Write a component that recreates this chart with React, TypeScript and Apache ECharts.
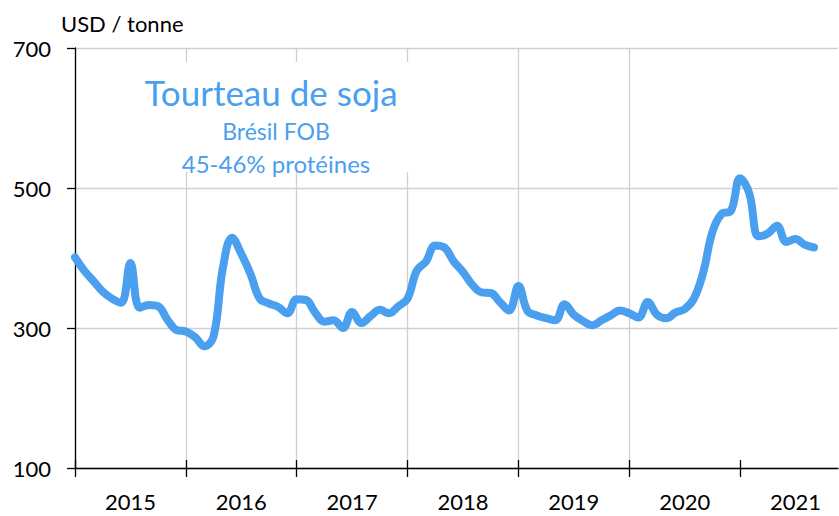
import React, { useEffect, useRef } from "react";
import * as echarts from "echarts";

// Monthly price, Jan 2015 .. Sep 2021 (USD / tonne)
const prices: number[] = [
  401, 382, 367, 352, 342, 336, 393, 329, 333, 331, 312, 297,
  295, 287, 274, 288, 385, 429, 406, 377, 342, 335, 330, 321,
  341, 340, 322, 309, 311, 300, 323, 307, 317, 326, 321, 331,
  342, 382, 395, 418, 415, 395, 380, 362, 351, 350, 337, 325,
  360, 324, 318, 314, 311, 334, 319, 310, 304, 311, 318, 325,
  321, 315, 337, 319, 314, 322, 327, 342, 379, 437, 463, 467,
  514, 492, 431, 435, 446, 423, 427, 419, 415,
];
const yearLabels: string[] = ["2015", "2016", "2017", "2018", "2019", "2020", "2021"];
const yearStartMonths: number[] = [0, 12, 24, 36, 48, 60, 72];
const yearMidMonths: number[] = [6, 18, 30, 42, 54, 66, 78];
const yTicks = { min: 100, max: 700, interval: 200 };

const BLUE = "#4A9FEE";
const FONT = "Lato, 'Open Sans', sans-serif";

export default function App() {
  const ref = useRef<HTMLDivElement>(null);
  useEffect(() => {
    document.body.style.margin = "0";
    if (!ref.current) return;
    const chart = echarts.init(ref.current, undefined, { renderer: "svg" });
    const data = prices.map((p, i) => [i, p]);
    chart.setOption({
      animation: false,
      backgroundColor: "#fff",
      textStyle: { fontFamily: FONT },
      grid: { left: 75, right: 1, top: 48, bottom: 48, containLabel: false },
      xAxis: [
        {
          type: "value",
          min: 0,
          max: 82.6,
          interval: 12,
          position: "bottom",
          axisLine: { show: true, onZero: false, lineStyle: { color: "#000", width: 1.3 } },
          axisTick: {
            show: true,
            length: 9,
            customValues: yearStartMonths,
            lineStyle: { color: "#000", width: 1.3 },
          },
          splitLine: { show: true, showMaxLine: false, lineStyle: { color: "#D0D0D0", width: 1.3 } },
          axisLabel: {
            show: true,
            customValues: yearMidMonths,
            formatter: (v: number) => yearLabels[yearMidMonths.indexOf(Math.round(v))] ?? "",
            color: "#000",
            fontSize: 22,
            fontWeight: "normal",
            fontFamily: FONT,
            margin: 22,
          },
        },
        {
          type: "value",
          min: 0,
          max: 82.6,
          interval: 12,
          position: "bottom",
          axisLine: { show: false },
          axisTick: {
            show: true,
            inside: true,
            length: 8,
            customValues: yearStartMonths,
            lineStyle: { color: "#000", width: 1.3 },
          },
          splitLine: { show: false },
          axisLabel: { show: false },
        },
      ],
      yAxis: {
        type: "value",
        min: yTicks.min,
        max: yTicks.max,
        interval: yTicks.interval,
        axisLine: { show: true, lineStyle: { color: "#000", width: 1.3 } },
        axisTick: { show: true, length: 8, lineStyle: { color: "#000", width: 1.3 } },
        splitLine: { show: true, lineStyle: { color: "#D0D0D0", width: 1.3 } },
        axisLabel: { color: "#000", fontSize: 22, fontFamily: FONT, margin: 24 },
      },
      graphic: [
        {
          type: "rect",
          z: 1,
          shape: { x: 130, y: 62, width: 290, height: 110 },
          style: { fill: "#fff" },
        },
        {
          type: "text",
          z: 2,
          x: 271,
          y: 92,
          style: {
            text: "Tourteau de soja",
            fill: BLUE,
            fontSize: 35,
            fontFamily: FONT,
            align: "center",
            verticalAlign: "middle",
          },
        },
        {
          type: "text",
          z: 2,
          x: 276,
          y: 131,
          style: {
            text: "Brésil FOB",
            fill: BLUE,
            fontSize: 23,
            fontFamily: FONT,
            align: "center",
            verticalAlign: "middle",
          },
        },
        {
          type: "text",
          z: 2,
          x: 276,
          y: 163,
          style: {
            text: "45-46% protéines",
            fill: BLUE,
            fontSize: 24,
            fontFamily: FONT,
            align: "center",
            verticalAlign: "middle",
          },
        },
        {
          type: "text",
          z: 2,
          x: 61,
          y: 23,
          style: {
            text: "USD / tonne",
            fill: "#000",
            fontSize: 22,
            fontFamily: FONT,
            align: "left",
            verticalAlign: "middle",
          },
        },
      ],
      series: [
        {
          type: "line",
          data,
          xAxisIndex: 0,
          smooth: 0.4,
          showSymbol: false,
          symbol: "none",
          lineStyle: { color: BLUE, width: 8, cap: "round", join: "round" },
          z: 3,
        },
      ],
    });
    return () => chart.dispose();
  }, []);
  return <div ref={ref} style={{ width: 839, height: 516 }} />;
}
